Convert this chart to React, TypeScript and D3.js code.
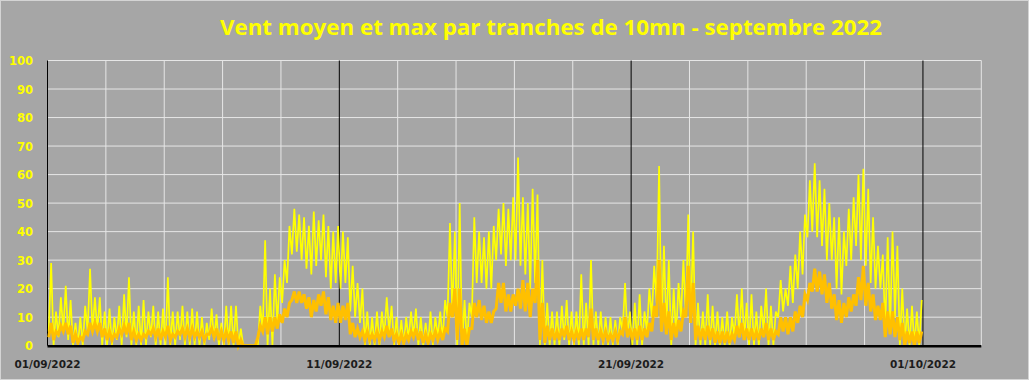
import React from "react";
import * as d3 from "d3";

const W = 1029;
const H = 380;

const title = "Vent moyen et max par tranches de 10mn - septembre 2022";
const yTicks = [0, 10, 20, 30, 40, 50, 60, 70, 80, 90, 100];
const xLabelDays = [0, 10, 20, 30];
const xLabels = ["01/09/2022", "11/09/2022", "21/09/2022", "01/10/2022"];
const gridDays = d3.range(0, 33, 2);

// Values per 4-hour block (6 blocks per day, 30 days).
// Vent max (yellow): upper and lower envelope of each block
const maxHigh = [
  29, 12, 17, 21, 16, 8,
  10, 14, 27, 17, 17, 12,
  13, 10, 14, 18, 24, 12,
  14, 16, 12, 14, 12, 13,
  24, 12, 12, 14, 12, 13,
  12, 10, 8, 13, 11, 8,
  14, 14, 14, 6, 0, 0,
  0, 14, 37, 20, 25, 24,
  30, 42, 48, 46, 45, 42,
  47, 44, 46, 42, 40, 42,
  40, 38, 28, 22, 20, 12,
  10, 12, 12, 17, 14, 10,
  9, 10, 12, 13, 10, 8,
  12, 10, 12, 16, 43, 40,
  50, 16, 15, 45, 40, 38,
  40, 42, 48, 50, 48, 52,
  66, 52, 50, 55, 53, 30,
  15, 12, 12, 14, 16, 12,
  12, 25, 15, 30, 12, 12,
  10, 10, 9, 10, 22, 12,
  15, 18, 12, 20, 28, 63,
  35, 30, 20, 22, 30, 46,
  40, 15, 12, 18, 14, 12,
  10, 12, 10, 18, 20, 15,
  18, 12, 14, 20, 14, 12,
  23, 20, 28, 32, 40, 46,
  58, 64, 58, 55, 50, 45,
  45, 40, 48, 52, 60, 62,
  55, 45, 35, 32, 38, 40,
  35, 20, 13, 14, 12, 16,
];
const maxLow = [
  5, 0, 3, 5, 2, 0,
  0, 0, 5, 5, 5, 0,
  0, 0, 2, 0, 3, 0,
  0, 0, 0, 3, 0, 0,
  0, 0, 0, 2, 0, 0,
  0, 0, 0, 2, 2, 0,
  0, 0, 0, 0, 0, 0,
  0, 0, 5, 0, 0, 8,
  15, 22, 32, 33, 30, 27,
  25, 28, 30, 24, 20, 22,
  20, 22, 12, 10, 8, 0,
  0, 0, 0, 3, 5, 0,
  0, 0, 2, 3, 0, 0,
  0, 0, 3, 2, 10, 10,
  0, 0, 0, 10, 22, 22,
  20, 20, 30, 32, 28, 30,
  30, 28, 25, 20, 22, 0,
  0, 0, 0, 0, 2, 0,
  0, 0, 0, 0, 0, 0,
  0, 0, 0, 0, 5, 3,
  0, 0, 0, 5, 10, 15,
  5, 5, 0, 3, 10, 10,
  10, 0, 0, 0, 0, 0,
  0, 0, 0, 3, 3, 2,
  0, 0, 0, 5, 0, 0,
  10, 12, 14, 15, 20, 25,
  38, 40, 38, 35, 30, 30,
  20, 18, 28, 30, 35, 30,
  28, 22, 20, 20, 5, 5,
  10, 0, 0, 0, 0, 0,
];
// Vent moyen (orange)
const meanHigh = [
  8, 5, 7, 8, 7, 4,
  3, 5, 8, 8, 8, 6,
  5, 4, 6, 7, 8, 5,
  4, 4, 5, 6, 6, 5,
  7, 4, 5, 6, 6, 6,
  5, 5, 4, 6, 6, 5,
  5, 5, 5, 2, 0, 0,
  0, 7, 10, 10, 10, 11,
  13, 15, 19, 19, 18, 17,
  16, 18, 19, 17, 14, 15,
  14, 15, 8, 6, 5, 5,
  4, 5, 5, 7, 6, 4,
  4, 4, 5, 6, 5, 4,
  4, 5, 5, 6, 15, 20,
  20, 6, 6, 15, 16, 14,
  12, 12, 22, 22, 18, 18,
  20, 23, 22, 20, 30, 15,
  7, 6, 5, 6, 7, 5,
  5, 6, 6, 13, 6, 5,
  5, 4, 5, 5, 10, 6,
  6, 7, 6, 8, 14, 30,
  15, 12, 8, 9, 12, 28,
  22, 7, 6, 7, 6, 5,
  5, 5, 4, 7, 8, 6,
  6, 5, 6, 8, 6, 5,
  10, 10, 10, 12, 14, 18,
  22, 27, 26, 25, 22, 18,
  16, 15, 17, 18, 24, 28,
  22, 18, 14, 15, 12, 12,
  10, 8, 5, 5, 5, 5,
];
const meanLow = [
  3, 2, 4, 5, 4, 1,
  1, 2, 4, 5, 5, 3,
  2, 2, 3, 4, 4, 2,
  2, 2, 3, 4, 3, 2,
  3, 2, 3, 4, 3, 3,
  3, 3, 2, 4, 3, 2,
  2, 2, 1, 0, 0, 0,
  0, 3, 5, 4, 5, 6,
  8, 10, 16, 15, 15, 13,
  10, 12, 14, 11, 9, 8,
  8, 9, 4, 3, 3, 2,
  2, 2, 2, 3, 3, 2,
  1, 1, 2, 3, 2, 1,
  1, 2, 2, 2, 5, 10,
  2, 0, 0, 6, 10, 9,
  8, 8, 13, 15, 12, 12,
  14, 13, 12, 10, 15, 2,
  1, 2, 2, 2, 3, 2,
  2, 2, 2, 3, 2, 2,
  2, 2, 2, 2, 4, 3,
  2, 2, 2, 3, 5, 10,
  5, 4, 2, 3, 5, 10,
  8, 2, 2, 2, 2, 1,
  1, 1, 1, 2, 3, 2,
  2, 2, 2, 3, 2, 2,
  4, 5, 4, 5, 8, 10,
  16, 19, 19, 18, 15, 13,
  9, 8, 10, 12, 14, 16,
  14, 12, 9, 9, 3, 4,
  3, 2, 0, 1, 0, 1,
];

type Pt = { t: number; v: number };

function zigzag(lo: number[], hi: number[]): Pt[] {
  const pts: Pt[] = [];
  lo.forEach((l, i) => {
    const t0 = i / 6;
    pts.push({ t: t0 + 1 / 24, v: l });
    pts.push({ t: t0 + 3 / 24, v: hi[i] });
  });
  return pts;
}

export default function App() {
  const x = d3.scaleLinear().domain([0, 32]).range([47.5, 981.3]);
  const y = d3.scaleLinear().domain([0, 100]).range([345.7, 60.5]);
  const line = d3
    .line<Pt>()
    .x((d) => x(d.t))
    .y((d) => y(d.v));

  const maxPts = zigzag(maxLow, maxHigh);
  const meanPts = zigzag(meanLow, meanHigh);

  return (
    <div style={{ position: "absolute", left: 0, top: 0 }}>
      <svg width={W} height={H} style={{ display: "block" }}>
        <rect x={0.5} y={0.5} width={W - 1} height={H - 1} fill="#a6a6a6" stroke="#d4d4d4" />
        <text
          x={551}
          y={35}
          textAnchor="middle"
          fill="#ffff00"
          fontFamily="'Open Sans', 'Liberation Sans', Arial, sans-serif"
          fontWeight="bold"
          fontSize={22}
          textLength={662}
          lengthAdjust="spacingAndGlyphs"
        >
          {title}
        </text>
        {/* horizontal grid */}
        {yTicks
          .filter((v) => v > 0)
          .map((v) => (
            <line key={"h" + v} x1={x(0)} x2={x(32)} y1={y(v)} y2={y(v)} stroke="#e6e6e6" strokeWidth={1} />
          ))}
        {/* vertical grid */}
        {gridDays
          .filter((d) => !(d % 10 === 0 && d <= 30))
          .map((d) => (
            <line key={"v" + d} x1={x(d)} x2={x(d)} y1={y(100)} y2={y(0)} stroke="#e6e6e6" strokeWidth={1} />
          ))}
        {gridDays
          .filter((d) => d % 10 === 0 && d <= 30)
          .map((d) => (
            <line key={"b" + d} x1={x(d)} x2={x(d)} y1={y(100)} y2={y(0)} stroke="#000" strokeWidth={1} />
          ))}
        {/* series */}
        <path d={line(maxPts) || ""} fill="none" stroke="#ffff00" strokeWidth={1.7} strokeLinejoin="miter" />
        <path d={line(meanPts) || ""} fill="none" stroke="#ffc000" strokeWidth={3} strokeLinejoin="miter" />
        {/* x axis */}
        <line x1={x(0)} x2={x(32)} y1={y(0) + 0.5} y2={y(0) + 0.5} stroke="#000" strokeWidth={2.5} />
        {/* y labels */}
        {yTicks.map((v) => (
          <text
            key={"yl" + v}
            x={33}
            y={y(v) + 4.5}
            textAnchor="end"
            fill="#ffff00"
            fontFamily="'DejaVu Sans', sans-serif"
            fontWeight="bold"
            fontSize={11.5}
          >
            {v}
          </text>
        ))}
        {/* x labels */}
        {xLabels.map((s, i) => (
          <text
            key={"xl" + i}
            x={x(xLabelDays[i])}
            y={368}
            textAnchor="middle"
            fill="#1c1c1c"
            fontFamily="'DejaVu Sans', sans-serif"
            fontWeight="bold"
            fontSize={10.5}
          >
            {s}
          </text>
        ))}
      </svg>
    </div>
  );
}
